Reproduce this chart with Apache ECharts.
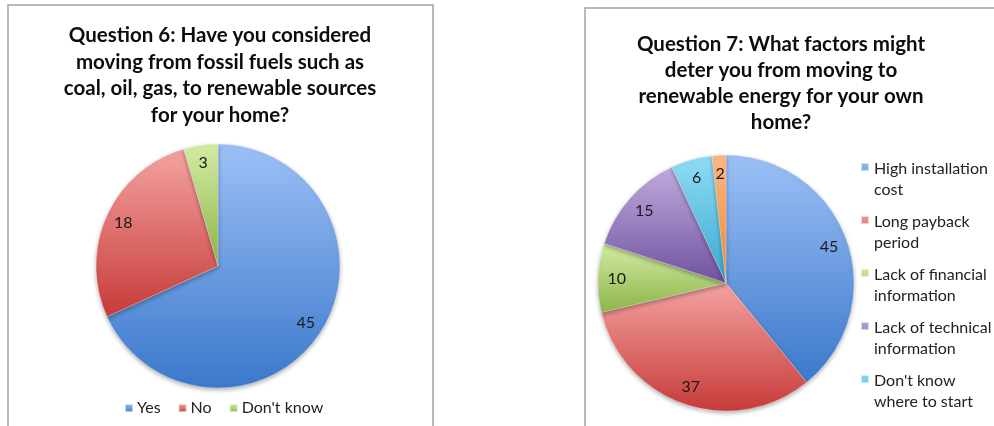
<!DOCTYPE html>
<html>
<head>
<meta charset="utf-8">
<script src="https://cdn.jsdelivr.net/npm/echarts@6/dist/echarts.min.js"></script>
<style>
  html, body { margin: 0; padding: 0; background: #fff; }
  #chart { width: 994px; height: 426px; }
</style>
</head>
<body>
<div id="chart"></div>
<script>
// Survey answers, question 6
const q6Categories = ['Yes', 'No', "Don't know"];
const q6Values = [45, 18, 3];

// Survey answers, question 7
const q7Categories = [
  'High installation cost',
  'Long payback period',
  'Lack of financial information',
  'Lack of technical information',
  "Don't know where to start",
  'Other'
];
const q7Values = [45, 37, 10, 15, 6, 2];
// Wrapped legend text for question 7
const q7LegendLabels = {
  'High installation cost': 'High installation\ncost',
  'Long payback period': 'Long payback\nperiod',
  'Lack of financial information': 'Lack of financial\ninformation',
  'Lack of technical information': 'Lack of technical\ninformation',
  "Don't know where to start": "Don't know\nwhere to start"
};

const q6Title = 'Question 6: Have you considered\nmoving from fossil fuels such as\ncoal, oil, gas, to renewable sources\nfor your home?';
const q7Title = 'Question 7: What factors might\ndeter you from moving to\nrenewable energy for your own\nhome?';

const FONT = 'Lato, "Open Sans", sans-serif';

// light-to-dark vertical shading per slice
const shades = {
  blue:   ['#9cc0f6', '#3b78cb'],
  red:    ['#f4a3a2', '#c63b38'],
  green:  ['#d4eca4', '#8bb548'],
  purple: ['#c0abdd', '#7052a0'],
  cyan:   ['#90ddf5', '#38a7d0'],
  orange: ['#fbb884', '#ef8a3a']
};
function shade(name) {
  const c = shades[name];
  return new echarts.graphic.LinearGradient(0, 0, 0, 1, [
    { offset: 0, color: c[0] },
    { offset: 1, color: c[1] }
  ]);
}
const q6Colors = ['blue', 'red', 'green'];
const q7Colors = ['blue', 'red', 'green', 'purple', 'cyan', 'orange'];

const sliceStyle = {
  borderColor: 'rgba(255,255,255,0.6)',
  borderWidth: 0.5,
  shadowBlur: 4,
  shadowOffsetY: 2,
  shadowColor: 'rgba(0,0,0,0.3)'
};

function pieData(cats, vals, colors) {
  return cats.map((n, i) => ({ name: n, value: vals[i], itemStyle: { color: shade(colors[i]) } }));
}
// transparent ring carrying the value labels at ~83% of the radius
function labelRing(cats, vals, center, r) {
  return {
    type: 'pie',
    silent: true,
    center: center,
    radius: [r * 0.66, r],
    startAngle: 90,
    clockwise: true,
    legendHoverLink: false,
    itemStyle: { color: 'rgba(0,0,0,0)' },
    emphasis: { disabled: true },
    label: {
      show: true,
      position: 'inside',
      formatter: '{c}',
      fontFamily: FONT,
      fontSize: 16,
      color: '#1a1a1a'
    },
    labelLine: { show: false },
    data: cats.map((n, i) => ({ name: n, value: vals[i] }))
  };
}

const chart = echarts.init(document.getElementById('chart'), null, { renderer: 'canvas' });

const legendIcon = 'path://M0,0h0.01v0.01h-0.01zM0,5h8v8h-8zM0,41.99h0.01v0.01h-0.01z';

chart.setOption({
  backgroundColor: '#ffffff',
  animation: false,
  graphic: [
    { type: 'rect', shape: { x: 8, y: 5, width: 425, height: 440 },
      style: { fill: '#fff', stroke: '#a3a3a3', lineWidth: 1.5 }, z: -10 },
    { type: 'rect', shape: { x: 585, y: 8, width: 430, height: 440 },
      style: { fill: '#fff', stroke: '#a3a3a3', lineWidth: 1.5 }, z: -10 }
  ],
  title: [
    {
      text: q6Title, left: 220, top: 22, textAlign: 'center', padding: 0,
      textStyle: { fontFamily: FONT, fontWeight: 'bold', fontSize: 20.5, lineHeight: 26.7, color: '#0d0d0d' }
    },
    {
      text: q7Title, left: 781, top: 31, textAlign: 'center', padding: 0,
      textStyle: { fontFamily: FONT, fontWeight: 'bold', fontSize: 20.5, lineHeight: 26, color: '#0d0d0d' }
    }
  ],
  legend: [
    {
      data: q6Categories,
      orient: 'horizontal',
      left: 124, top: 400,
      padding: 0,
      itemWidth: 8, itemHeight: 8, itemGap: 17,
      icon: 'rect',
      selectedMode: false,
      textStyle: { fontFamily: FONT, fontSize: 16, color: '#222', padding: [0, 0, 0, -1] }
    },
    {
      data: q7Categories.slice(0, 5),
      orient: 'vertical',
      left: 860, top: 157,
      padding: 0,
      itemWidth: 8, itemHeight: 42, itemGap: 9,
      icon: legendIcon,
      selectedMode: false,
      formatter: n => q7LegendLabels[n] || n,
      textStyle: { fontFamily: FONT, fontSize: 16, lineHeight: 21, color: '#222' }
    }
  ],
  series: [
    {
      type: 'pie',
      center: [218, 266],
      radius: [0, 122],
      startAngle: 90,
      clockwise: true,
      label: { show: false },
      labelLine: { show: false },
      emphasis: { disabled: true },
      itemStyle: sliceStyle,
      data: pieData(q6Categories, q6Values, q6Colors)
    },
    labelRing(q6Categories, q6Values, [218, 266], 122),
    {
      type: 'pie',
      center: [726, 283],
      radius: [0, 128],
      startAngle: 90,
      clockwise: true,
      label: { show: false },
      labelLine: { show: false },
      emphasis: { disabled: true },
      itemStyle: sliceStyle,
      data: pieData(q7Categories, q7Values, q7Colors)
    },
    labelRing(q7Categories, q7Values, [726, 283], 128)
  ]
});
</script>
</body>
</html>
